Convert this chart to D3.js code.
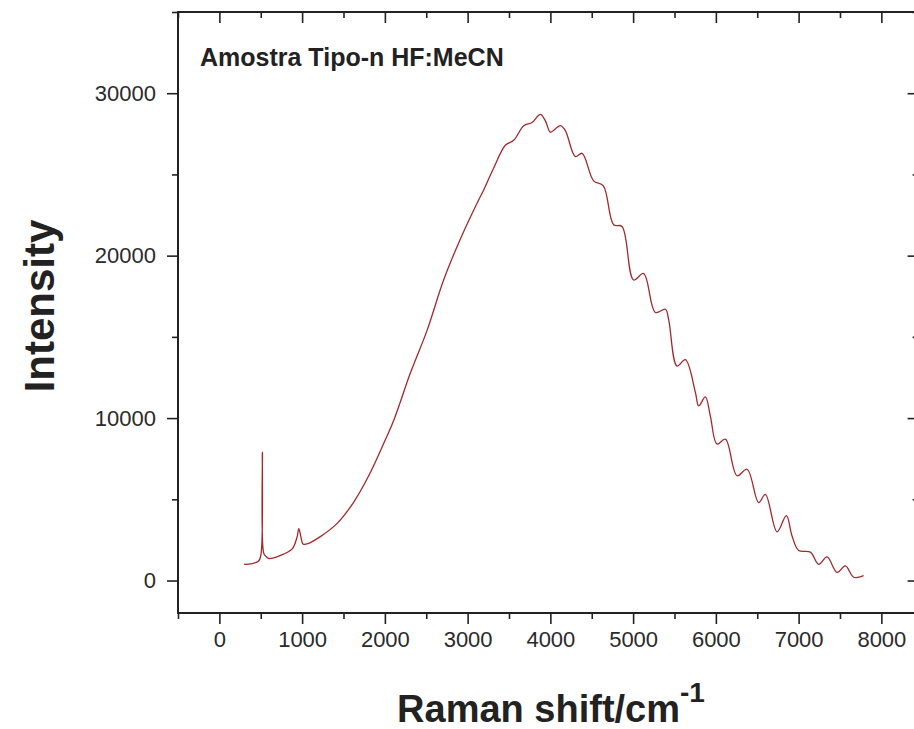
<!DOCTYPE html>
<html><head><meta charset="utf-8">
<script src="https://cdn.jsdelivr.net/npm/d3@7"></script>
<style>
html,body{margin:0;padding:0;background:#fff;}
svg{display:block;font-family:"Liberation Sans",Arial,sans-serif;}
</style></head>
<body>
<svg id="chart" width="914" height="729"></svg>
<script>
// Data (Raman shift in cm^-1, intensity in counts)
const ramanShift = [300,375,475,505,520,535,560,600,740,880,940,960,985,1010,1060,1220,1420,1620,1800,2000,2110,2310,2510,2710,2910,3130,3190,3315,3456,3557,3678,3779,3879,3940,4000,4060,4121,4181,4302,4383,4523,4640,4765,4866,5006,5127,5269,5390,5430,5531,5631,5752,5793,5873,5934,6014,6115,6256,6377,6517,6598,6739,6852,6920,7001,7142,7243,7344,7465,7565,7666,7786];
const intensity  = [1000,1020,1200,1700,7900,1700,1500,1350,1550,1950,2700,3200,2700,2250,2250,2700,3500,4800,6400,8600,9900,12800,15400,18500,21000,23400,24000,25400,26800,27100,28000,28200,28700,28300,27600,27800,28000,27700,26100,26300,24600,24300,21900,21800,18500,18900,16500,16700,16050,13200,13600,11600,10750,11300,10100,8400,8700,6450,6850,4800,5300,3000,4000,2750,1850,1750,1000,1450,500,900,200,300];
const xTicks = [0,1000,2000,3000,4000,5000,6000,7000,8000];
const yTicks = [0,10000,20000,30000];
const titleText = "Amostra Tipo-n HF:MeCN";
const xLabel = "Raman shift/cm";
const xLabelSup = "-1";
const yLabel = "Intensity";

(function(){
const svg = d3.select("#chart");
const L = 178, R = 918.6, T = 12, B = 613;
const x = d3.scaleLinear().domain([-500, 8450]).range([L, R]);
const y = d3.scaleLinear().domain([-2000, 35000]).range([B, T]);

const xMinor = d3.range(-500, 8451, 500).filter(v => v % 1000 !== 0);
const yMinor = d3.range(-2000, 35001, 1000).filter(v => v % 5000 === 0 && v % 10000 !== 0);

const axisColor = "#222";
function styleAxis(g){
  g.select(".domain").remove();
  g.selectAll("line").attr("stroke", axisColor).attr("stroke-width", 1.6);
  g.selectAll("text").attr("fill", "#2a2a2a").style("font-size", "22px").style("font-family", "'Liberation Sans',Arial,sans-serif");
}

svg.append("g").attr("transform", `translate(0,${B})`)
  .call(d3.axisBottom(x).tickValues(xTicks).tickSize(11).tickPadding(7).tickFormat(d3.format("d")))
  .call(styleAxis);
svg.append("g").attr("transform", `translate(0,${B})`)
  .call(d3.axisBottom(x).tickValues(xMinor).tickSize(6).tickFormat(""))
  .call(styleAxis);
svg.append("g").attr("transform", `translate(0,${T})`)
  .call(d3.axisTop(x).tickValues(xTicks).tickSize(-11).tickFormat(""))
  .call(styleAxis);
svg.append("g").attr("transform", `translate(0,${T})`)
  .call(d3.axisTop(x).tickValues(xMinor).tickSize(-6).tickFormat(""))
  .call(styleAxis);
svg.append("g").attr("transform", `translate(${L},0)`)
  .call(d3.axisLeft(y).tickValues(yTicks).tickSize(11).tickPadding(11).tickFormat(d3.format("d")))
  .call(styleAxis);
svg.append("g").attr("transform", `translate(${L},0)`)
  .call(d3.axisLeft(y).tickValues(yMinor).tickSize(6).tickFormat(""))
  .call(styleAxis);
svg.append("g").attr("transform", `translate(${R},0)`)
  .call(d3.axisRight(y).tickValues(yTicks).tickSize(-11).tickFormat(""))
  .call(styleAxis);
svg.append("g").attr("transform", `translate(${R},0)`)
  .call(d3.axisRight(y).tickValues(yMinor).tickSize(-6).tickFormat(""))
  .call(styleAxis);

svg.append("rect").attr("x", L).attr("y", T)
  .attr("width", R - L).attr("height", B - T)
  .attr("fill", "none").attr("stroke", axisColor).attr("stroke-width", 2);

const pts = ramanShift.map((v, i) => [v, intensity[i]]);
svg.append("path").datum(pts)
  .attr("fill", "none").attr("stroke", "#a3282c").attr("stroke-width", 1.3)
  .attr("stroke-linejoin", "round")
  .attr("d", d3.line().x(d => x(d[0])).y(d => y(d[1])).curve(d3.curveCatmullRom.alpha(0.5)));

svg.append("text").attr("x", 200).attr("y", 66)
  .style("font-size", "25px").style("font-weight", "bold").attr("fill", "#222")
  .text(titleText);

svg.append("text").attr("transform", `translate(54,306) rotate(-90)`)
  .attr("text-anchor", "middle").style("font-size", "42px").style("font-weight", "bold").attr("fill", "#222")
  .text(yLabel);

const xl = svg.append("text").attr("x", 551).attr("y", 722)
  .attr("text-anchor", "middle").style("font-size", "38px").style("font-weight", "bold").attr("fill", "#222");
xl.append("tspan").text(xLabel);
xl.append("tspan").attr("dy", -20).style("font-size", "28px").text(xLabelSup);
})();
</script>
</body></html>
